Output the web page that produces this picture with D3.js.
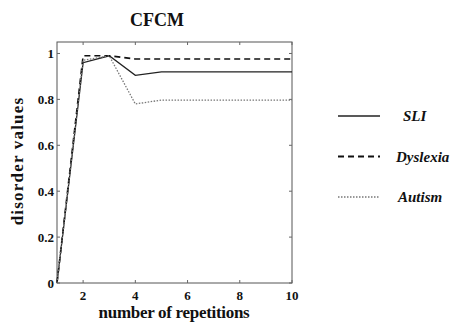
<!DOCTYPE html>
<html>
<head>
<meta charset="utf-8">
<script src="https://cdn.jsdelivr.net/npm/d3@7"></script>
<style>
  body { margin: 0; background: #fff; }
  text { font-family: "Liberation Serif", "DejaVu Serif", serif; font-weight: bold; fill: #111; }
</style>
</head>
<body>
<svg id="chart" width="462" height="322"></svg>
<script>
// === Data ===
const repetitions = [1, 2, 3, 4, 5, 6, 7, 8, 9, 10];
const sliValues      = [0, 0.96, 0.99, 0.905, 0.92, 0.92, 0.92, 0.92, 0.92, 0.92];
const dyslexiaValues = [0, 0.99, 0.99, 0.976, 0.976, 0.976, 0.976, 0.976, 0.976, 0.976];
const autismValues   = [0, 0.97, 0.99, 0.78, 0.797, 0.797, 0.797, 0.797, 0.797, 0.797];
const seriesNames = ['SLI', 'Dyslexia', 'Autism'];
const xTicks = [2, 4, 6, 8, 10];
const yTicks = [0, 0.2, 0.4, 0.6, 0.8, 1];

const series = [
    { name: seriesNames[0], values: sliValues, dash: null, color: '#222', width: 1.3 },
    { name: seriesNames[1], values: dyslexiaValues, dash: '6,4', color: '#111', width: 1.6 },
    { name: seriesNames[2], values: autismValues, dash: '1.5,1.5', color: '#777', width: 1.3 }
];

const svg = d3.select('#chart');
const x = d3.scaleLinear().domain([1, 10]).range([57, 292]);
const y = d3.scaleLinear().domain([0, 1.05]).range([283, 42]);

// Frame
svg.append('rect')
    .attr('x', x(1)).attr('y', y(1.05))
    .attr('width', x(10) - x(1)).attr('height', y(0) - y(1.05))
    .attr('fill', 'none').attr('stroke', '#555').attr('stroke-width', 1);

// Inside ticks on all four sides (MATLAB style)
const tickLen = 3;
const ticks = svg.append('g').attr('stroke', '#666').attr('stroke-width', 1);
xTicks.forEach(t => {
    ticks.append('line').attr('x1', x(t)).attr('x2', x(t)).attr('y1', y(0)).attr('y2', y(0) - tickLen);
    ticks.append('line').attr('x1', x(t)).attr('x2', x(t)).attr('y1', y(1.05)).attr('y2', y(1.05) + tickLen);
});
yTicks.forEach(t => {
    ticks.append('line').attr('x1', x(1)).attr('x2', x(1) + tickLen).attr('y1', y(t)).attr('y2', y(t));
    ticks.append('line').attr('x1', x(10)).attr('x2', x(10) - tickLen).attr('y1', y(t)).attr('y2', y(t));
});

// Tick labels
svg.append('g').selectAll('text').data(xTicks).join('text')
    .attr('x', d => x(d)).attr('y', 300)
    .attr('text-anchor', 'middle').attr('font-size', 13)
    .text(d => d);
svg.append('g').selectAll('text').data(yTicks).join('text')
    .attr('x', x(1) - 3).attr('y', d => y(d) + 4.5)
    .attr('text-anchor', 'end').attr('font-size', 13)
    .text(d => d === 0 || d === 1 ? d : d.toFixed(1));

// Lines
const line = d3.line().x((d, i) => x(repetitions[i])).y(d => y(d));
svg.append('g').selectAll('path').data(series).join('path')
    .attr('d', d => line(d.values))
    .attr('fill', 'none')
    .attr('stroke', d => d.color)
    .attr('stroke-width', d => d.width)
    .attr('stroke-dasharray', d => d.dash);

// Title and axis labels
svg.append('text').attr('x', 157).attr('y', 26)
    .attr('text-anchor', 'middle').attr('font-size', 18)
    .text('CFCM');
svg.append('text').attr('x', 174).attr('y', 318)
    .attr('text-anchor', 'middle').attr('font-size', 17).attr('letter-spacing', -0.3)
    .text('number of repetitions');
svg.append('text')
    .attr('transform', 'translate(23,161) rotate(-90)')
    .attr('text-anchor', 'middle').attr('font-size', 17).attr('letter-spacing', 1.2)
    .text('disorder values');

// Legend
const legend = svg.append('g').selectAll('g').data(series).join('g')
    .attr('transform', (d, i) => `translate(338,${116 + i * 40.5})`);
legend.append('line')
    .attr('x1', 0).attr('x2', 42).attr('y1', 0).attr('y2', 0)
    .attr('stroke', d => d.color)
    .attr('stroke-width', d => d.width + 0.3)
    .attr('stroke-dasharray', d => d.dash);
legend.append('text')
    .attr('x', (d, i) => [65, 58, 60][i]).attr('y', 5)
    .attr('font-size', 15).attr('font-style', 'italic')
    .text(d => d.name);
</script>
</body>
</html>
